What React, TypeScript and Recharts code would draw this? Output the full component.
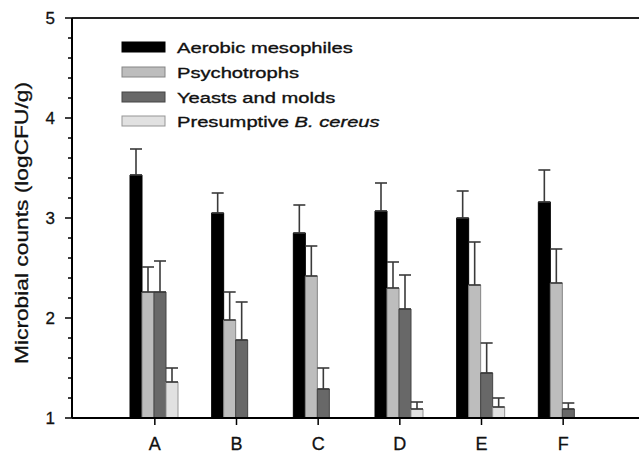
import { BarChart, Bar, XAxis, YAxis, ErrorBar, ReferenceLine } from "recharts";

const samples = ["A", "B", "C", "D", "E", "F"];

const aerobic = [3.43, 3.05, 2.85, 3.07, 3.0, 3.16];
const aerobicErr = [0.26, 0.2, 0.28, 0.28, 0.27, 0.32];
const psychro = [2.26, 1.98, 2.42, 2.3, 2.33, 2.35];
const psychroErr = [0.25, 0.28, 0.3, 0.26, 0.43, 0.34];
const yeasts = [2.26, 1.78, 1.29, 2.09, 1.45, 1.09];
const yeastsErr = [0.31, 0.38, 0.21, 0.34, 0.3, 0.06];
const cereus = [1.36, null, null, 1.09, 1.11, null];
const cereusErr = [0.14, null, null, 0.07, 0.09, null];

const yTicks = [1, 1.2, 1.4, 1.6, 1.8, 2, 2.2, 2.4, 2.6, 2.8, 3, 3.2, 3.4, 3.6, 3.8, 4, 4.2, 4.4, 4.6, 4.8, 5];

const series = [
  { key: "aerobic", name: "Aerobic mesophiles", fill: "#000000", stroke: "#000000" },
  { key: "psychro", name: "Psychotrophs", fill: "#bdbdbd", stroke: "#858585" },
  { key: "yeasts", name: "Yeasts and molds", fill: "#686868", stroke: "#444444" },
  { key: "cereus", name: "Presumptive", fill: "#e1e1e1", stroke: "#959595" },
];

const errOf = (e: number | null) => (e == null ? null : [0, e]);

const data = samples.map((s, i) => ({
  sample: s,
  aerobic: aerobic[i],
  aerobicErr: errOf(aerobicErr[i]),
  psychro: psychro[i],
  psychroErr: errOf(psychroErr[i]),
  yeasts: yeasts[i],
  yeastsErr: errOf(yeastsErr[i]),
  cereus: cereus[i],
  cereusErr: errOf(cereusErr[i]),
}));

const FONT = "'Liberation Sans', Arial, sans-serif";

function YTick(props: any) {
  const { x, y, payload } = props;
  const major = Number.isInteger(payload.value);
  return (
    <g>
      <line x1={x - (major ? 7 : 4)} x2={x} y1={y} y2={y} stroke="#000" strokeWidth={1.5} />
      {major && (
        <text x={x - 17} y={y + 6} textAnchor="end" fontSize={17} fontFamily={FONT} fill="#111" stroke="#111" strokeWidth={0.3}>
          {payload.value}
        </text>
      )}
    </g>
  );
}

function XTick(props: any) {
  const { x, y, payload } = props;
  return (
    <text x={x} y={y + 23} textAnchor="middle" fontSize={18} fontFamily={FONT} fill="#111" stroke="#111" strokeWidth={0.3}>
      {payload.value}
    </text>
  );
}

const legendRows = [47, 72, 97, 121];

function Legend() {
  return (
    <svg width={639} height={454} style={{ position: "absolute", left: 0, top: 0, pointerEvents: "none" }}>
      {series.map((s, i) => (
        <g key={s.key}>
          <rect x={122} y={legendRows[i] - 5} width={43} height={10} fill={s.fill} stroke={s.stroke} strokeWidth={1} />
          <g transform={`translate(177, ${legendRows[i] + 5.5}) scale(1.3, 1)`}>
            <text x={0} y={0} fontSize={15.5} fontFamily={FONT} fill="#111" stroke="#111" strokeWidth={0.35}>
              {s.name}
              {s.key === "cereus" && <tspan fontStyle="italic"> B. cereus</tspan>}
            </text>
          </g>
        </g>
      ))}
      <text
        x={28}
        y={223}
        transform="rotate(-90, 28, 223)"
        textAnchor="middle"
        fontSize={19}
        fontFamily={FONT}
        fill="#111"
        stroke="#111"
        strokeWidth={0.3}
        textLength={282}
        lengthAdjust="spacingAndGlyphs"
      >
        Microbial counts (logCFU/g)
      </text>
    </svg>
  );
}

export default function App() {
  return (
    <div style={{ position: "relative", width: 639, height: 454, overflow: "hidden", background: "#fff" }}>
      <style>{"body{margin:0}"}</style>
      <BarChart
        width={700}
        height={454}
        data={data}
        margin={{ top: 18, right: 0, bottom: 0, left: 0 }}
        barCategoryGap={16}
        barGap={0}
      >
        <XAxis
          dataKey="sample"
          height={36}
          padding={{ left: 42, right: 96 }}
          tick={<XTick />}
          tickSize={7}
          tickLine={{ stroke: "#000", strokeWidth: 1.5 }}
          axisLine={{ stroke: "#000", strokeWidth: 2 }}
          interval={0}
        />
        <YAxis
          width={72}
          domain={[1, 5]}
          ticks={yTicks}
          interval={0}
          tickSize={0}
          tickMargin={0}
          tickLine={false}
          tick={<YTick />}
          axisLine={{ stroke: "#000", strokeWidth: 2 }}
          allowDataOverflow
        />
        <ReferenceLine y={5} stroke="#222" strokeWidth={2} ifOverflow="visible" />
        {series.map((s) => (
          <Bar key={s.key} dataKey={s.key} fill={s.fill} stroke={s.stroke} strokeWidth={1} isAnimationActive={false}>
            <ErrorBar dataKey={`${s.key}Err`} direction="y" width={6} stroke="#3a3a3a" strokeWidth={1.6} />
          </Bar>
        ))}
      </BarChart>
      <Legend />
    </div>
  );
}
